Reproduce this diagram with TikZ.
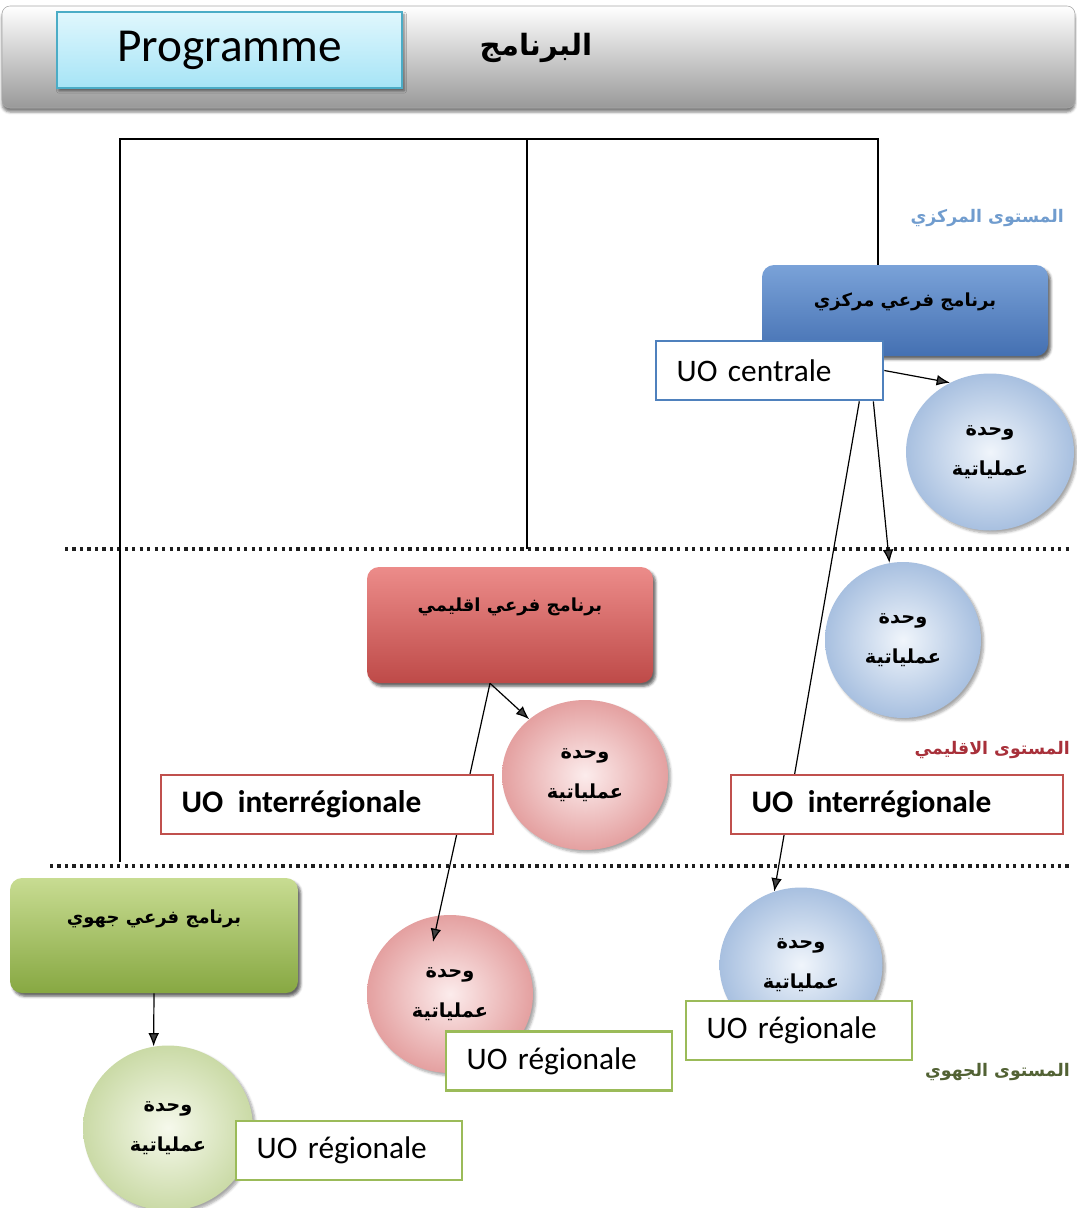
\documentclass[tikz,border=0pt]{standalone}
\usepackage{fontspec}
\setmainfont{Carlito}
\newfontfamily\arabicfont[Script=Arabic]{DejaVu Sans}
\TeXXeTstate=1
\usepackage{tikz}
\usetikzlibrary{shapes}
\usetikzlibrary{shadows.blur}
\usetikzlibrary{arrows.meta}
\usetikzlibrary{calc}

\newcommand{\artxt}[1]{{\arabicfont\bfseries\beginR #1\endR}}

\begin{document}
\begin{tikzpicture}[x=0.75pt,y=0.75pt,yscale=-1,xscale=1,
  subprog/.style={rounded corners=9pt, inner sep=0pt, align=center, font=\fontsize{13.5}{16}\selectfont,
    blur shadow={shadow xshift=2pt, shadow yshift=-2.5pt, shadow opacity=60, shadow blur steps=4}},
  unit/.style={ellipse, inner sep=0pt, align=center, font=\fontsize{14.5}{30}\selectfont,
    blur shadow={shadow xshift=2pt, shadow yshift=-2pt, shadow opacity=35, shadow blur steps=5}},
  uobox/.style={rectangle, fill=white, line width=2pt, inner xsep=15.5pt, inner ysep=0pt, align=left,
    minimum height=44.25pt, font=\fontsize{23.5}{28}\selectfont},
  lvlsep/.style={line width=2.4pt, dash pattern=on 2.4pt off 3.2pt, color={rgb,255:red,30;green,30;blue,30}},
  tree/.style={line width=1.1pt},
  conn/.style={line width=0.9pt, -{Latex[length=10pt,width=8pt]}},
  lvltxt/.style={font=\fontsize{13}{16}\selectfont, inner sep=0pt, anchor=east}
]
\useasboundingbox (0,0) rectangle (1077,1208);

%Shape: Header bar
\draw [draw=gray!70, rounded corners=6pt, top color=white, bottom color=gray!80,
  blur shadow={shadow xshift=0pt, shadow yshift=-3pt, shadow opacity=50}] (2,6) rectangle (1075,108);
% Text Node
\node [draw={rgb,255:red,75;green,172;blue,198}, line width=1pt, top color={rgb,255:red,224;green,247;blue,253},
  bottom color={rgb,255:red,166;green,228;blue,246}, minimum width=258.75pt, minimum height=57pt,
  font=\fontsize{35.5}{40}\selectfont, blur shadow={shadow xshift=1.5pt, shadow yshift=-2pt, shadow opacity=50}]
  (prog) at (229.5,50) {Programme};
% Text Node
\node [font=\fontsize{22}{24}\selectfont, inner sep=0pt] (progar) at (536,48) {\artxt{البرنامج}};

%Dotted level separators
\draw [lvlsep] (65,549) -- (1072,549);
\draw [lvlsep] (50,866) -- (1072,866);

%Sub-programmes
\node [subprog, top color={rgb,255:red,122;green,162;blue,216}, bottom color={rgb,255:red,68;green,112;blue,178},
  minimum width=214.5pt, text height=30.75pt, text depth=37.5pt]
  (central) at (905,310.5) {\artxt{برنامج فرعي مركزي}};
\node [subprog, top color={rgb,255:red,236;green,140;blue,138}, bottom color={rgb,255:red,190;green,74;blue,72},
  minimum width=214.5pt, text height=33pt, text depth=54pt]
  (interreg) at (510,625) {\artxt{برنامج فرعي اقليمي}};
\node [subprog, top color={rgb,255:red,200;green,220;blue,146}, bottom color={rgb,255:red,135;green,168;blue,66},
  minimum width=216pt, text height=33.75pt, text depth=52.5pt]
  (regional) at (154,935.5) {\artxt{برنامج فرعي جهوي}};

%Straight Lines
\coordinate (brk) at (120,862);
\coordinate (brktop) at (120,139);
\coordinate (midtop) at (527,139);
\coordinate (midend) at (527,549);
\draw [tree] (brk) -- (brktop) -| ([xshift=-20.25pt]central.north);
\draw [tree] (midtop) -- (midend);

%Operational units
\node [unit, inner color={rgb,255:red,240;green,245;blue,251}, outer color={rgb,255:red,168;green,192;blue,224},
  minimum width=126pt, minimum height=117.75pt] (c1) at (990,452) {\artxt{وحدة}\\\artxt{عملياتية}};
\node [unit, inner color={rgb,255:red,240;green,245;blue,251}, outer color={rgb,255:red,168;green,192;blue,224},
  minimum width=117pt, minimum height=117pt] (c2) at (903,640) {\artxt{وحدة}\\\artxt{عملياتية}};
\node [unit, inner color={rgb,255:red,240;green,245;blue,251}, outer color={rgb,255:red,168;green,192;blue,224},
  minimum width=122.25pt, minimum height=116.25pt] (c3) at (801,965) {\artxt{وحدة}\\\artxt{عملياتية}};
\node [unit, inner color={rgb,255:red,252;green,236;blue,236}, outer color={rgb,255:red,228;green,160;blue,160},
  minimum width=124.5pt, minimum height=112.5pt] (c4) at (585,775) {\artxt{وحدة}\\\artxt{عملياتية}};
\node [unit, inner color={rgb,255:red,252;green,236;blue,236}, outer color={rgb,255:red,228;green,160;blue,160},
  minimum width=124.5pt, minimum height=118.5pt] (c5) at (450,994) {\artxt{وحدة}\\\artxt{عملياتية}};
\node [unit, inner color={rgb,255:red,246;green,249;blue,236}, outer color={rgb,255:red,202;green,218;blue,166},
  minimum width=127.5pt, minimum height=123.75pt] (c6) at (168,1128) {\artxt{وحدة}\\\artxt{عملياتية}};

%UO labels
\node [uobox, draw={rgb,255:red,79;green,129;blue,189}, text width=139.25pt] (ucentral) at (769.5,370.5) {UO centrale};

%Arrows
\draw [conn] (ucentral.east) -- (c1.120);
\draw [conn] ([xshift=-8.25pt]ucentral.south east) -- (c2.100);
\draw [conn] ([xshift=-18.75pt]ucentral.south east) -- (c3.110);
\draw [conn] ([xshift=-15pt]interreg.south) -- (c4.135);
\draw [conn] ([xshift=-15pt]interreg.south) -- ($(c5.center)+(-17,-52)$);
\draw [conn] (regional.south) -- (c6.100);

\node [uobox, draw={rgb,255:red,192;green,80;blue,77}, text width=218pt, font=\fontsize{23.5}{28}\selectfont\bfseries]
  (uinter1) at (327,804.5) {UO\hspace{11pt}interrégionale};
\node [uobox, draw={rgb,255:red,192;green,80;blue,77}, text width=218pt, font=\fontsize{23.5}{28}\selectfont\bfseries]
  (uinter2) at (897,804.5) {UO\hspace{11pt}interrégionale};
\node [uobox, draw={rgb,255:red,155;green,187;blue,89}, text width=138.5pt] (ureg1) at (349,1150.5) {UO régionale};
\node [uobox, draw={rgb,255:red,155;green,187;blue,89}, text width=138.5pt] (ureg2) at (559,1061) {UO régionale};
\node [uobox, draw={rgb,255:red,155;green,187;blue,89}, text width=138.5pt] (ureg3) at (799,1030.5) {UO régionale};

% Text Node
\node [lvltxt, text={rgb,255:red,112;green,156;blue,206}] (lvlc) at (1064,218) {\artxt{المستوى المركزي}};
% Text Node
\node [lvltxt, text={rgb,255:red,168;green,48;blue,58}] (lvli) at (1070,750) {\artxt{المستوى الاقليمي}};
% Text Node
\node [lvltxt, text={rgb,255:red,82;green,98;blue,52}] (lvlr) at (1070,1072) {\artxt{المستوى الجهوي}};

\end{tikzpicture}
\end{document}
